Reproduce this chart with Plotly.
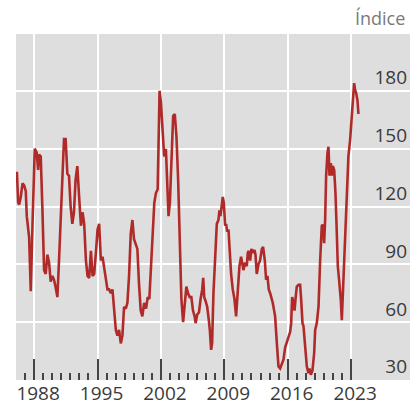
import plotly.graph_objects as go

# Decimal years and index values
years = [
    1986.10, 1986.24, 1986.35, 1986.53, 1986.72, 1986.90, 1987.08, 1987.19, 1987.45, 1987.63,
    1987.82, 1988.07, 1988.29, 1988.44, 1988.55, 1988.73, 1988.92, 1989.10, 1989.28, 1989.47,
    1989.65, 1989.83, 1990.02, 1990.20, 1990.38, 1990.57, 1990.75, 1990.93, 1991.12, 1991.30,
    1991.48, 1991.67, 1991.85, 1992.03, 1992.22, 1992.40, 1992.58, 1992.77, 1992.97, 1993.17,
    1993.35, 1993.53, 1993.72, 1993.90, 1994.08, 1994.27, 1994.45, 1994.63, 1994.82, 1995.00,
    1995.18, 1995.37, 1995.55, 1995.73, 1995.92, 1996.10, 1996.28, 1996.47, 1996.65, 1996.83,
    1997.02, 1997.20, 1997.38, 1997.57, 1997.75, 1997.93, 1998.12, 1998.30, 1998.48, 1998.67,
    1998.85, 1999.03, 1999.22, 1999.40, 1999.58, 1999.77, 1999.95, 2000.15, 2000.36, 2000.54,
    2000.72, 2000.91, 2001.09, 2001.27, 2001.45, 2001.64, 2001.74, 2001.85, 2002.00, 2002.18,
    2002.36, 2002.55, 2002.73, 2002.84, 2002.99, 2003.17, 2003.35, 2003.53, 2003.72, 2003.90,
    2004.08, 2004.26, 2004.45, 2004.63, 2004.81, 2004.99, 2005.18, 2005.36, 2005.54, 2005.72,
    2005.83, 2006.01, 2006.20, 2006.38, 2006.56, 2006.67, 2006.78, 2006.93, 2007.11, 2007.29,
    2007.40, 2007.54, 2007.65, 2007.80, 2007.98, 2008.17, 2008.35, 2008.46, 2008.57, 2008.72,
    2008.83, 2008.94, 2009.09, 2009.20, 2009.31, 2009.46, 2009.57, 2009.75, 2009.93, 2010.12,
    2010.30, 2010.49, 2010.67, 2010.85, 2010.96, 2011.11, 2011.30, 2011.48, 2011.59, 2011.70,
    2011.85, 2011.99, 2012.14, 2012.33, 2012.44, 2012.58, 2012.77, 2012.95, 2013.14, 2013.28,
    2013.47, 2013.61, 2013.76, 2013.91, 2014.06, 2014.20, 2014.35, 2014.50, 2014.61, 2014.80,
    2014.98, 2015.16, 2015.35, 2015.53, 2015.72, 2015.90, 2016.08, 2016.27, 2016.38, 2016.49,
    2016.64, 2016.75, 2016.86, 2017.00, 2017.19, 2017.37, 2017.48, 2017.63, 2017.74, 2017.92,
    2018.11, 2018.29, 2018.40, 2018.55, 2018.73, 2018.92, 2019.03, 2019.21, 2019.40, 2019.58,
    2019.76, 2019.88, 2020.02, 2020.13, 2020.24, 2020.39, 2020.50, 2020.61, 2020.76, 2020.87,
    2020.98, 2021.13, 2021.27, 2021.42, 2021.53, 2021.67, 2021.86, 2021.97, 2022.15, 2022.34,
    2022.52, 2022.70, 2022.89, 2023.00, 2023.11, 2023.22, 2023.33, 2023.44, 2023.55, 2023.70,
    2023.81,
]
values = [
    138, 122, 121, 125, 132, 131, 128, 115, 104, 76,
    110, 150, 148, 139, 147, 146, 118, 87, 85, 95,
    91, 81, 84, 82, 78, 73, 92, 113, 139, 155,
    155, 137, 136, 120, 111, 117, 134, 141, 125, 110,
    117, 111, 92, 84, 83, 97, 84, 85, 96, 108,
    111, 92, 94, 89, 82, 77, 77, 75, 77, 66,
    56, 53, 56, 49, 53, 68, 67, 70, 84, 106,
    113, 103, 100, 98, 80, 66, 63, 70, 67, 73,
    72, 89, 110, 122, 127, 129, 153, 180, 174, 158,
    146, 150, 132, 115, 122, 146, 167, 168, 156, 134,
    101, 72, 60, 68, 78.5, 75, 73, 73, 66, 63,
    59.5, 64, 65, 72, 77, 83, 73, 71, 68, 61,
    56, 45.6, 49, 75, 92, 111, 113, 118, 115, 120,
    125, 122, 110, 111, 107, 108, 99, 85, 77, 72,
    63, 75, 89, 94, 91, 87, 91, 89, 96, 97,
    92, 98, 96, 97.5, 95, 85, 90, 92, 98, 99,
    92, 82, 84, 77, 75, 73, 70, 66, 63, 49,
    37, 36, 38, 40.5, 47, 50, 53, 55, 59.5, 73,
    70, 66, 72, 78.5, 79.4, 79.4, 72, 59.5, 58, 47,
    37, 33.5, 36, 32.7, 35, 44, 56, 59.5, 68, 92,
    110, 110.5, 101, 113, 136, 148, 151, 136, 142.5, 136,
    141, 139, 127, 106, 89, 82, 71.6, 61, 84, 103,
    123.5, 146, 154.6, 161.5, 168, 172, 184, 180.5, 179, 175,
    168,
]

major_ticks = [1988, 1995, 2002, 2009, 2016, 2023]
major_labels = ["1988", "1995", "2002", "2009", "2016", "2023"]
minor_ticks = [y for y in range(1986, 2023) if y not in major_ticks]
y_ticks = [30, 60, 90, 120, 150, 180]
y_labels = ["30", "60", "90", "120", "150", "180"]

LINE = "#b12a2a"
BG = "#dedede"
TXT = "#3a3a3a"
FONT = "Open Sans"

fig = go.Figure()
fig.add_trace(go.Scatter(
    x=years, y=values, mode="lines",
    line=dict(color=LINE, width=2.6),
    hoverinfo="skip", showlegend=False,
))

fig.update_layout(
    width=415, height=405,
    margin=dict(l=16, r=5, t=34, b=25),
    paper_bgcolor="white",
    plot_bgcolor=BG,
    font=dict(family=FONT, color=TXT, size=19),
    xaxis=dict(
        range=[1986.0, 2029.5], automargin=False,
        tickmode="array", tickvals=major_ticks, ticktext=major_labels,
        ticks="inside", ticklen=21, tickwidth=1.5, tickcolor="#444",
        showgrid=True, gridcolor="white", gridwidth=1.5,
        zeroline=False, showline=False,
        ticklabelshift=4, ticklabelstandoff=0,
        tickfont=dict(size=19, color=TXT, family=FONT),
        minor=dict(tickmode="array", tickvals=minor_ticks, ticks="inside",
                   ticklen=7, tickwidth=1.5, tickcolor="#444", showgrid=False),
    ),
    yaxis=dict(
        range=[30, 209.5], side="right", automargin=False,
        tickmode="array", tickvals=y_ticks, ticktext=y_labels,
        ticks="", ticklabelposition="inside top",
        showgrid=True, gridcolor="white", gridwidth=2,
        zeroline=False, showline=False,
        tickfont=dict(size=19, color=TXT, family=FONT),
    ),
    annotations=[dict(
        text="Índice", xref="paper", yref="paper", x=1, y=1.045,
        xanchor="right", yanchor="middle", xshift=-3, showarrow=False,
        font=dict(size=18, color="#7a7a7a", family=FONT),
    )],
)

fig.write_html("out.html")
